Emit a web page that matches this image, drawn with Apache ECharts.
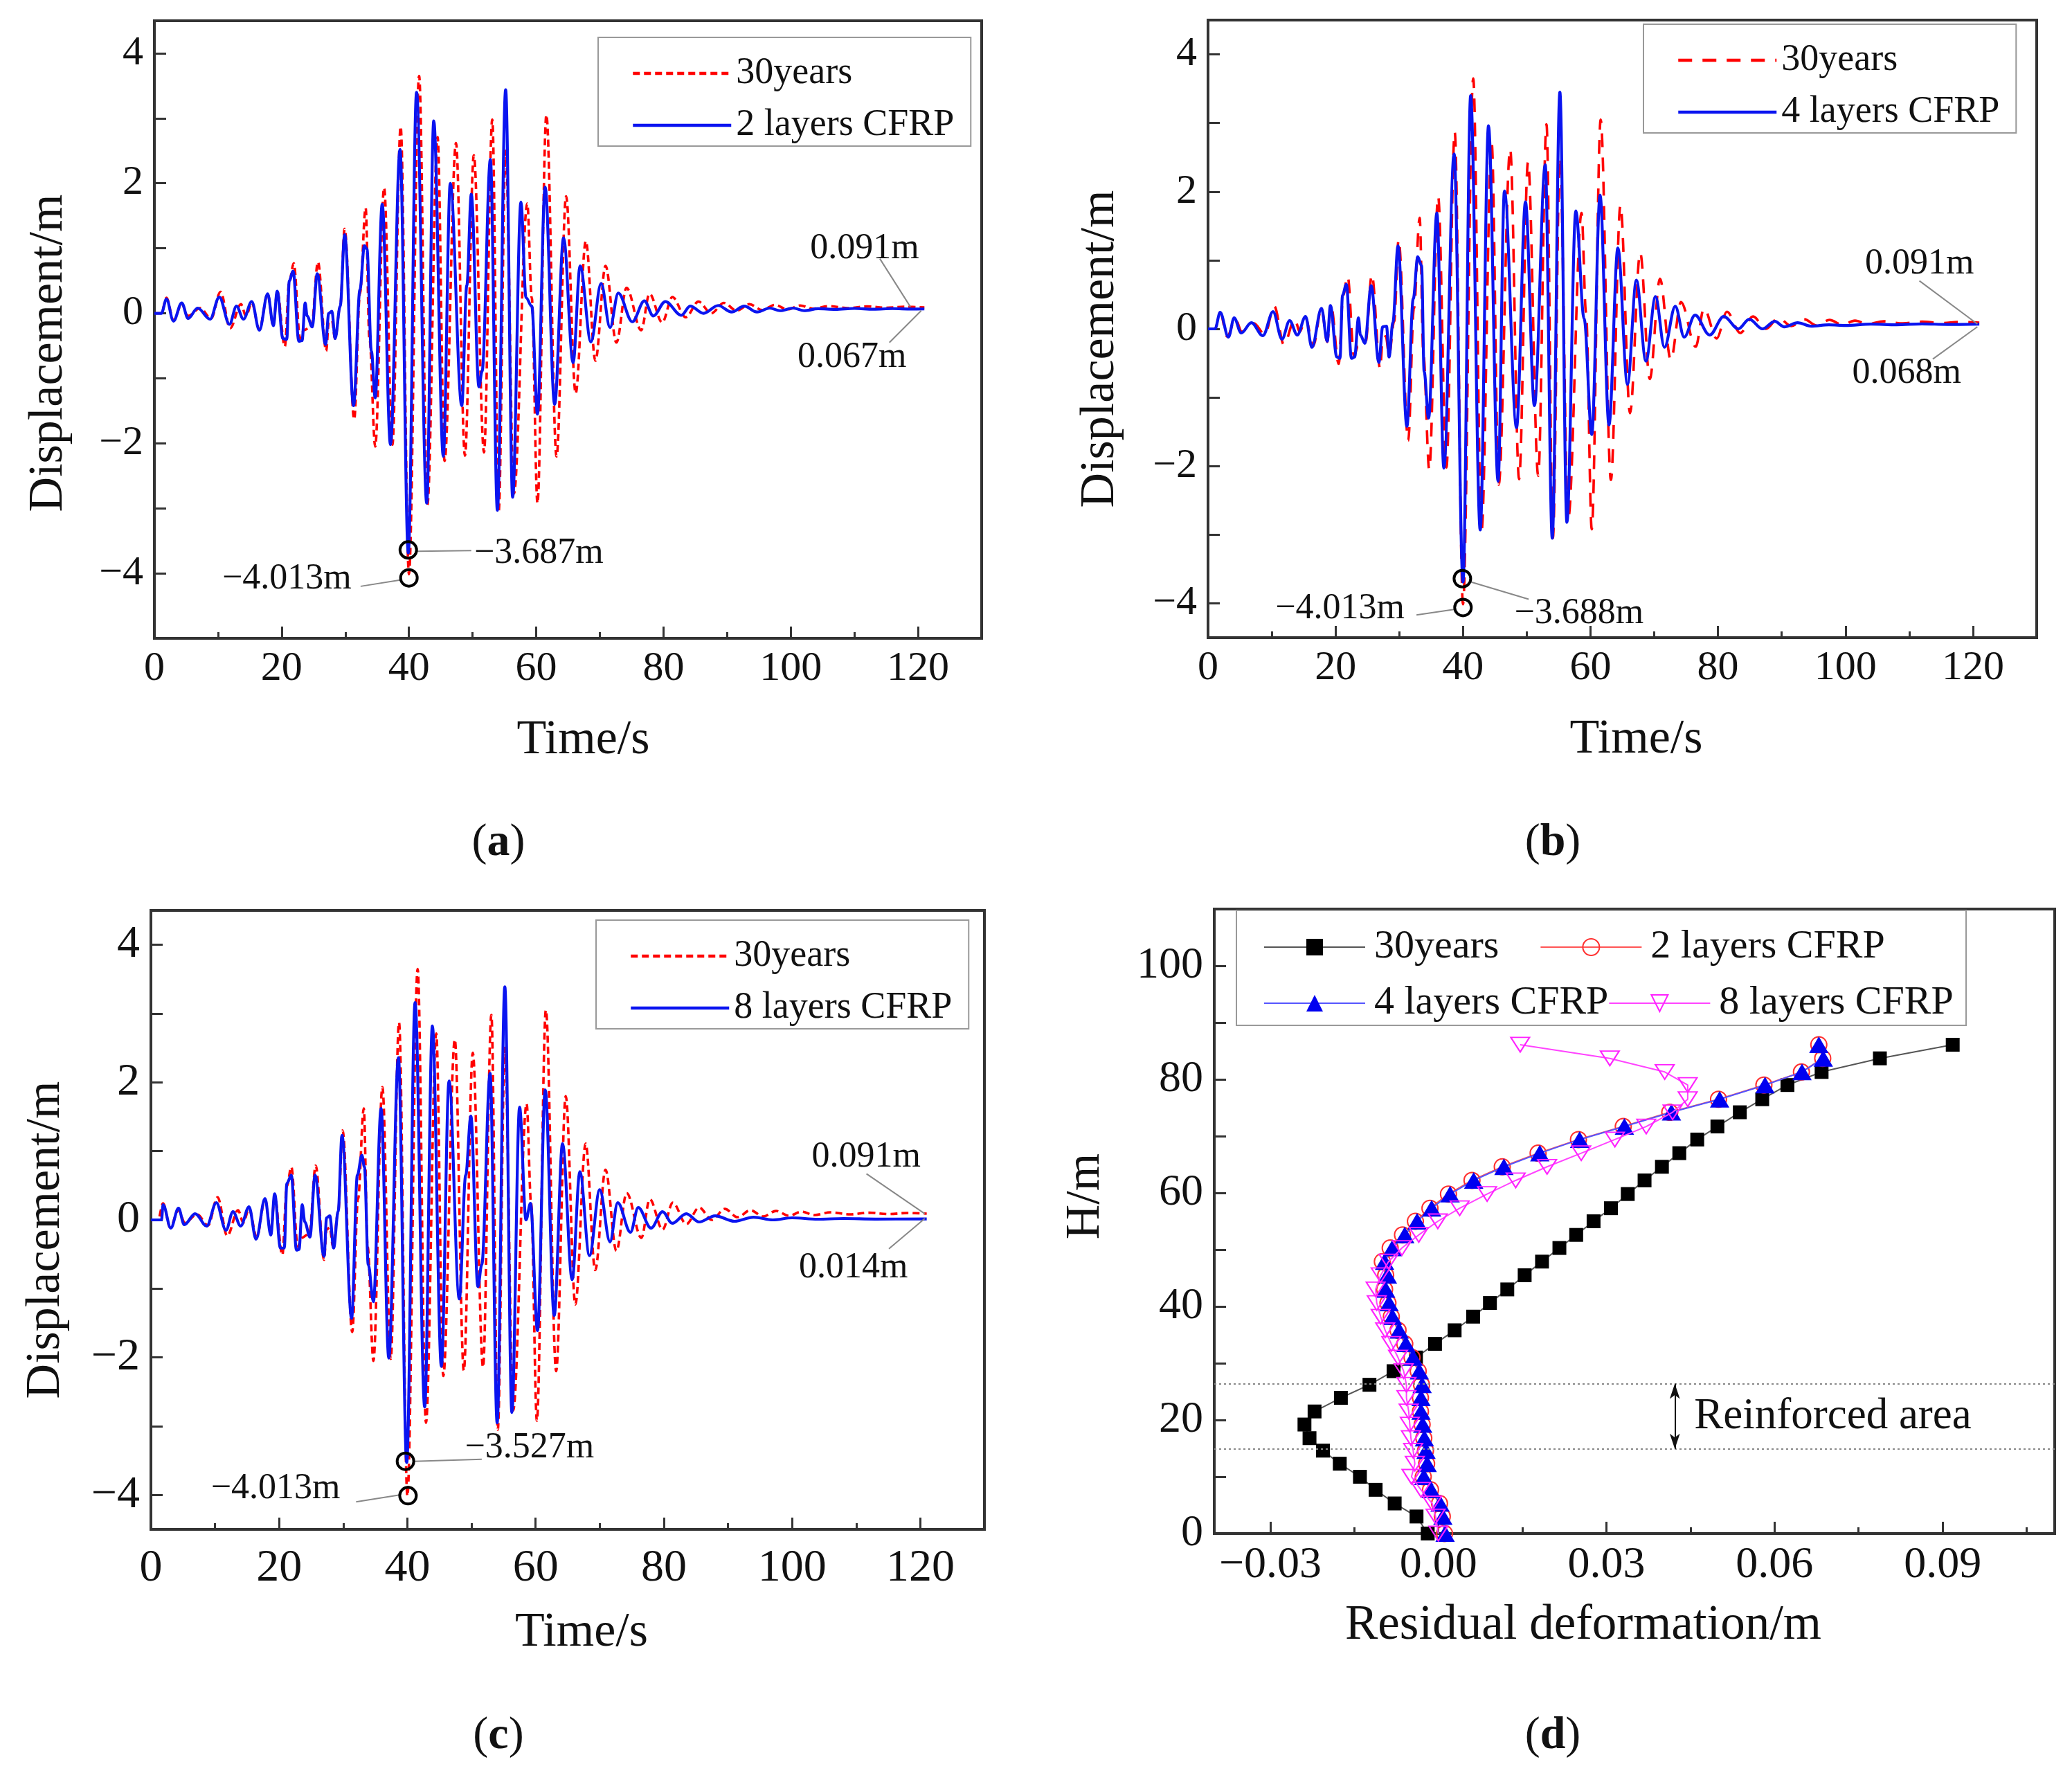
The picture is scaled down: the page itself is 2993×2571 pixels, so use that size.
<!DOCTYPE html>
<html>
<head>
<meta charset="utf-8">
<style>
  html, body { margin: 0; padding: 0; background: #fff; }
  #main { width: 2993px; height: 2571px; }
</style>
<script src="https://cdn.jsdelivr.net/npm/echarts@6/dist/echarts.min.js"></script>
</head>
<body>
<div id="main"></div>
<script>
// values, [time, displacement]
var red30 = [[0,0],[1.1,0],[1.9,.24],[3,-.11],[4.3,.14],[5.3,-.04],[7.2,.08],[8.9,-.08],[10.4,.33],[11.9,-.23],[13.6,.14],[14.4,-.04],[15.3,.16],[16.5,-.25],[17.8,.3],[18.7,-.19],[19.3,.34],[20.5,-.51],[21.2,.49],[21.9,.77],[22.9,-.39],[23.5,-.26],[24.7,-.2],[25.7,.79],[27,-.58],[27.4,-.14],[27.9,-.11],[28.4,-.39],[29.2,.11],[29.9,1.3],[31.4,-1.63],[32.3,.3],[33.2,1.62],[33.8,-.39],[34.7,-2.05],[36.1,1.93],[37.4,-2.02],[38.7,2.87],[40,-4.013],[41.6,3.65],[42.9,-2.95],[44.5,2.71],[45.6,-2.27],[47.4,2.62],[48.8,-2.19],[50.2,2.43],[51.8,-2.14],[53.1,2.98],[54.1,-3.05],[55.2,2.5],[56.5,-2.77],[58.6,1.69],[59.3,.24],[60.2,-2.92],[61.6,3.05],[63.2,-2.2],[64.7,1.8],[66.2,-1.23],[67.8,1.11],[69.3,-.73],[70.9,.73],[72.6,-.45],[74.2,.39],[76.5,-.26],[77.8,.3],[79.8,-.14],[81.4,.25],[83.5,-.06],[85.5,.18],[87.5,0],[89.5,.16],[91.5,.04],[93.5,.14],[95.5,.05],[97.5,.13],[99.5,.06],[101.5,.12],[103.5,.07],[106,.11],[109,.08],[112,.105],[115,.085],[118,.1],[121,.091]];
var blue2 = [[0,0],[1.1,0],[1.9,.22],[3,-.12],[4.3,.16],[5.3,-.08],[6.8,.08],[8.75,-.09],[10.2,.25],[11.8,-.17],[12.9,.11],[14,-.09],[15.3,.18],[16.5,-.26],[17.8,.3],[18.7,-.19],[19.3,.34],[20.2,-.39],[20.8,-.4],[21.2,.5],[21.8,.65],[22.7,-.43],[23.2,-.42],[23.7,.16],[24,-.04],[24.8,-.21],[25.6,.61],[26.9,-.48],[27.4,0],[27.9,.03],[28.4,-.39],[29.2,.11],[29.9,1.21],[31.3,-1.42],[32.3,.36],[33,1.04],[33.4,.99],[34.1,-.58],[34.7,-1.3],[35.8,1.68],[37.1,-2.02],[38.6,2.52],[39.9,-3.687],[41.2,3.4],[42.8,-2.92],[43.9,2.96],[45.4,-2.2],[46.5,2],[48.3,-1.42],[49.1,.43],[49.8,1.83],[51,-1.13],[51.5,-.89],[52.8,2.37],[53.9,-3.03],[55.2,3.44],[56.3,-2.83],[57.6,1.71],[58.4,.24],[59.3,.11],[60.2,-1.55],[61.4,1.94],[62.9,-1.4],[64.3,1.16],[65.8,-.76],[66.9,.73],[68.6,-.44],[70.2,.46],[71.6,-.22],[72.9,.31],[75.1,-.13],[77,.19],[78.4,-.04],[80.3,.18],[82.8,-.03],[84.2,.11],[86.3,0],[88.6,.12],[90.7,.02],[92.7,.11],[94.7,.02],[96.7,.08],[98.3,.04],[100.4,.08],[102.1,.04],[104.3,.07],[107,.06],[110,.075],[113,.062],[116,.072],[119,.066],[121,.067]];
var blue4 = [[0,0],[1.1,0],[1.9,.24],[3.2,-.12],[4.1,.16],[5.2,-.06],[6.8,.09],[8.6,-.1],[10.2,.25],[11.6,-.15],[12.8,.12],[14,-.09],[15.3,.18],[16.3,-.27],[17.8,.3],[18.7,-.18],[19.2,.34],[20.2,-.41],[20.7,-.43],[21.1,.49],[21.7,.65],[22.5,-.43],[23,-.41],[23.6,.16],[23.9,-.09],[24.6,-.21],[25.6,.63],[26.8,-.49],[27.4,.03],[28,.04],[28.4,-.41],[29,.09],[29.8,1.21],[31.2,-1.42],[32.2,.44],[32.9,1.05],[33.5,.92],[33.9,-.62],[34.6,-1.3],[35.9,1.69],[37,-2.03],[38.6,2.55],[40,-3.688],[41.2,3.4],[42.7,-2.93],[44,2.96],[45.5,-2.22],[46.5,2.01],[48.4,-1.44],[49.8,1.85],[51.2,-1.12],[52.9,2.39],[54,-3.05],[55.2,3.45],[56.3,-2.82],[57.7,1.72],[59,.15],[60.2,-1.54],[61.5,1.95],[62.9,-1.4],[64.3,1.18],[65.8,-.81],[67.2,.71],[68.7,-.47],[70.2,.47],[71.6,-.27],[73.3,.33],[74.7,-.12],[76.4,.2],[78.7,-.09],[80.9,.18],[83.2,0],[84.9,.14],[87,0],[88.9,.11],[90.4,.03],[92.5,.09],[94.6,.04],[97.4,.06],[100,.05],[104,.07],[108,.06],[112,.072],[116,.064],[121,.068]];
var blue8 = [[0,0],[1.65,0],[1.9,.22],[3.1,-.12],[4.3,.17],[5.2,-.07],[6.9,.09],[8.7,-.09],[10.2,.25],[11.7,-.15],[12.8,.12],[14,-.09],[15.3,.19],[16.4,-.28],[17.8,.31],[18.7,-.22],[19.3,.38],[20.2,-.41],[20.8,-.41],[21.2,.53],[21.9,.65],[22.7,-.44],[23.1,-.43],[23.6,.22],[24,-.03],[24.8,-.25],[25.6,.65],[27,-.53],[27.4,.03],[27.9,.06],[28.5,-.41],[29.2,.12],[29.8,1.23],[31.3,-1.43],[32.2,.65],[32.9,.94],[33.3,.77],[33.9,-.65],[34.7,-1.19],[35.9,1.62],[37.1,-2.01],[38.6,2.36],[39.9,-3.527],[41.2,3.16],[42.7,-2.72],[43.9,2.82],[45.3,-2.13],[46.5,2.02],[48.1,-1.15],[49.1,.65],[49.9,1.51],[51,-.97],[51.6,-.65],[52.9,2.13],[54,-2.95],[55.2,3.39],[56.3,-2.8],[57.5,1.64],[58.5,0],[59.2,.24],[60.3,-1.61],[61.5,1.89],[62.9,-1.39],[64.2,1.11],[65.7,-.87],[66.9,.7],[68.4,-.52],[70,.44],[71.6,-.32],[72.8,.25],[74.8,-.18],[76,.18],[78,-.12],[79.8,.12],[81.3,-.05],[83.5,.09],[85.5,-.03],[88,.06],[91,-.02],[94,.04],[97,0],[100,.03],[104,.01],[108,.02],[113,.012],[121,.014]];

// panel (d), storey height and residual deformation
var heights = [86.1,83.7,81.3,79,76.5,74.2,71.7,69.4,67,64.6,62.2,59.8,57.3,55,52.6,50.3,47.9,45.5,43,40.6,38.2,35.8,33.4,31,28.6,26.2,23.9,21.5,19.2,16.8,14.6,12.3,10,7.7,5.3,3,0];
var resid30 = [.0918,.0788,.0684,.0623,.0578,.0538,.0498,.0462,.043,.0399,.0368,.0338,.0308,.0277,.0246,.0216,.0185,.0154,.0123,.0092,.0062,.0029,-.0006,-.004,-.008,-.0123,-.0174,-.0221,-.0239,-.023,-.0206,-.0176,-.014,-.0112,-.0078,-.0039,-.0019];
var resid2 = [.0679,.0686,.0648,.0581,.05,.0413,.033,.025,.0178,.0114,.006,.0018,-.0015,-.0041,-.0064,-.0086,-.01,-.0094,-.0096,-.009,-.0084,-.0072,-.006,-.0047,-.0036,-.003,-.0032,-.0032,-.0029,-.0026,-.0023,-.0021,-.0027,-.0014,.0002,.0007,.0011];
var resid4 = [.0679,.0687,.0649,.0583,.0502,.0416,.0332,.0252,.0181,.0117,.0063,.0021,-.0012,-.0038,-.006,-.0082,-.0096,-.0091,-.0094,-.0088,-.0082,-.007,-.0058,-.0045,-.0034,-.0029,-.0031,-.0031,-.0028,-.0025,-.0022,-.002,-.0026,-.0013,.0003,.0008,.0012];
var resid8 = [.0146,.0306,.0404,.0445,.0445,.0418,.0371,.0315,.0255,.0194,.0138,.0087,.0038,-.0001,-.0035,-.0065,-.0089,-.0103,-.0112,-.011,-.0103,-.0095,-.0084,-.0072,-.0062,-.0057,-.0057,-.0053,-.0051,-.0049,-.0045,-.0042,-.0048,-.0031,-.0011,-.0005,0];
var reinforcedTop = 26.4, reinforcedBottom = 14.9;

// tick labels
var timeTicks = [0,20,40,60,80,100,120];
var timeMinor = [10,30,50,70,90,110];
var dispTicks = [-4,-3,-2,-1,0,1,2,3,4];
var dispLabels = [-4,-2,0,2,4];
var residTicks = [-0.03,0,0.03,0.06,0.09];
var residMinor = [-0.015,0.015,0.045,0.075,0.105];
var heightTicks = [0,10,20,30,40,50,60,70,80,90,100];
var heightLabels = [0,20,40,60,80,100];

// annotation texts and the extreme points they mark
var circlesA = [[39.9,-3.64],[40,-4.07]];
var circlesB = [[39.9,-3.64],[40,-4.06]];
var circlesC = [[39.7,-3.51],[40.1,-4.01]];
var notesA = [['0.091m',103,1.02],['0.067m',101,-.65],['\u22123.687m',50.2,-3.66],['\u22124.013m',10.6,-4.06]];
var notesB = [['0.091m',103,.98],['0.068m',101,-.62],['\u22123.688m',48,-4.12],['\u22124.013m',10.5,-4.05]];
var notesC = [['0.091m',103,.94],['0.014m',101,-.67],['\u22123.527m',48.9,-3.29],['\u22124.013m',9.3,-3.88]];
var leadersA = [[[114,.84],[118.8,.1]],[[120.5,.04],[115.5,-.45]],[[41.3,-3.66],[49.8,-3.65]],[[32.4,-4.2],[38.8,-4.1]]];
var leadersB = [[[111.6,.7],[120.7,.07]],[[120.7,.03],[113.7,-.44]],[[41.3,-3.69],[50.3,-3.94]],[[32.7,-4.17],[38.6,-4.09]]];
var leadersC = [[[111.6,.67],[120.7,.09]],[[120.7,.02],[115.1,-.42]],[[41,-3.51],[51.6,-3.48]],[[32,-4.1],[38.8,-4]]];

var serif = '"Liberation Serif", serif';
var ink = '#111';

function minus(v) {
	return String(v).replace('-', '\u2212');
}

function xValueAxis(grid, min, max, ticks, fmt, size, margin, name, gap, pad, nameSize) {
	return {
		type: 'value', gridIndex: grid, min: min, max: max, position: 'bottom',
		name: name, nameLocation: 'middle', nameGap: gap,
		nameTextStyle: { fontFamily: serif, fontSize: nameSize, color: ink, padding: pad },
		axisLine: { show: false, onZero: false },
		axisTick: { show: true, inside: true, length: 17, customValues: ticks, lineStyle: { color: '#333', width: 3 } },
		axisLabel: { show: true, customValues: ticks, margin: margin, fontFamily: serif, fontSize: size, color: ink, formatter: fmt },
		splitLine: { show: false }
	};
}

function minorAxis(grid, min, max, ticks) {
	return {
		type: 'value', gridIndex: grid, min: min, max: max, position: 'bottom',
		axisLine: { show: false, onZero: false },
		axisTick: { show: true, inside: true, length: 9, customValues: ticks, lineStyle: { color: '#333', width: 3 } },
		axisLabel: { show: false },
		splitLine: { show: false }
	};
}

function yValueAxis(grid, min, max, ticks, labels, size, name, gap, pad, nameSize) {
	return {
		type: 'value', gridIndex: grid, min: min, max: max,
		name: name, nameLocation: 'middle', nameGap: gap, nameRotate: 90,
		nameTextStyle: { fontFamily: serif, fontSize: nameSize, color: ink, padding: pad },
		axisLine: { show: false, onZero: false },
		axisTick: { show: true, inside: true, length: 17, customValues: ticks, lineStyle: { color: '#333', width: 3 } },
		axisLabel: { show: true, customValues: labels, margin: 16, fontFamily: serif, fontSize: size, color: ink, formatter: minus },
		splitLine: { show: false }
	};
}

function gridBox(l, t, r, b) {
	return { left: l, top: t, width: r - l, height: b - t, show: true, borderColor: '#333', borderWidth: 4, backgroundColor: 'transparent' };
}

function timeLine(grid, name, data, color, dash, width) {
	return {
		type: 'line', name: name, xAxisIndex: grid, yAxisIndex: grid, data: data,
		symbol: 'none', smooth: 0.35, smoothMonotone: 'x', z: dash ? 2 : 3,
		lineStyle: { color: color, width: width, type: dash || 'solid' },
		itemStyle: { color: color }
	};
}

function noteSeries(grid, notes, leaders, circles) {
	return [{
		type: 'scatter', xAxisIndex: grid, yAxisIndex: grid, symbolSize: 24, z: 5,
		data: circles,
		itemStyle: { color: 'transparent', borderColor: '#000', borderWidth: 4, opacity: 1 }
	}, {
		type: 'scatter', xAxisIndex: grid, yAxisIndex: grid, symbolSize: 1, z: 6,
		data: notes.map(function(n) { return { name: n[0], value: [n[1], n[2]] }; }),
		itemStyle: { color: 'transparent', opacity: 1 },
		label: { show: true, position: 'right', distance: 0, offset: [0, 3], formatter: '{b}', fontFamily: serif, fontSize: 52, color: ink },
		markLine: {
			silent: true, symbol: 'none', animation: false,
			label: { show: false },
			lineStyle: { color: '#888', width: 2, type: 'solid' },
			data: leaders.map(function(p) { return [{ coord: p[0] }, { coord: p[1] }]; })
		}
	}];
}

function timeLegend(left, top, names) {
	return {
		left: left, top: top, orient: 'vertical', selectedMode: false,
		data: names, itemWidth: 142, itemHeight: 2, itemGap: 21,
		padding: [25, 24, 3, 48], borderColor: '#999', borderWidth: 2, backgroundColor: '#fff',
		lineStyle: { width: 4.5 },
		textStyle: { fontFamily: serif, fontSize: 54, color: ink, padding: [0, 0, 0, 2] },
		formatter: function(n) { return n.split(':')[1]; }
	};
}

function rowLegend(left, top, names, gap) {
	return {
		left: left, top: top, orient: 'horizontal', selectedMode: false, padding: 0,
		data: names, itemWidth: 146, itemHeight: 30, itemGap: gap,
		textStyle: { fontFamily: serif, fontSize: 58, color: ink, padding: [0, 0, 0, 8] },
		formatter: function(n) { return n.split(':')[1]; }
	};
}

function profile(name, values, symbol, size, rotate, line, fill, stroke, z) {
	return {
		type: 'line', name: name, xAxisIndex: 3, yAxisIndex: 3,
		data: values.map(function(v, i) { return [v, heights[i]]; }),
		symbol: symbol, symbolSize: size, symbolRotate: rotate, z: z,
		lineStyle: { color: line, width: 2 },
		itemStyle: { color: fill, borderColor: stroke, borderWidth: stroke === fill ? 0 : 2 }
	};
}

function caption(x, y, letter) {
	return {
		type: 'text', x: x, y: y,
		style: {
			text: '({b|' + letter + '})', align: 'center', verticalAlign: 'middle',
			fontFamily: serif, fontSize: 66, fill: '#111',
			rich: { b: { fontFamily: serif, fontSize: 66, fontWeight: 'bold', fill: '#111' } }
		}
	};
}

var dashShort = [10, 6], dashLong = [20, 15];

var series = [
	timeLine(0, 'a:30years', red30, '#ff0000', dashShort, 3.6),
	timeLine(0, 'a:2 layers CFRP', blue2, '#0a14f0', null, 4.2),
	timeLine(1, 'b:30years', red30, '#ff0000', dashLong, 3.6),
	timeLine(1, 'b:4 layers CFRP', blue4, '#0a14f0', null, 4.2),
	timeLine(2, 'c:30years', red30, '#ff0000', dashShort, 3.6),
	timeLine(2, 'c:8 layers CFRP', blue8, '#0a14f0', null, 4.2)
];
series = series.concat(noteSeries(0, notesA, leadersA, circlesA));
series = series.concat(noteSeries(1, notesB, leadersB, circlesB));
series = series.concat(noteSeries(2, notesC, leadersC, circlesC));

var black = profile('d:30years', resid30, 'rect', 20, 0, '#555', '#000', '#000', 2);
black.markLine = {
	silent: true, symbol: 'none', animation: false,
	label: { show: false },
	lineStyle: { color: '#888', width: 2, type: [3, 4] },
	data: [{ yAxis: reinforcedTop }, { yAxis: reinforcedBottom }]
};
series.push(black);
series.push(profile('d:2 layers CFRP', resid2, 'circle', 23, 0, '#ff5555', 'transparent', '#ff3030', 3));
series.push(profile('d:4 layers CFRP', resid4, 'triangle', [28, 24], 0, '#5555ff', '#0000f0', '#0000f0', 4));
series.push(profile('d:8 layers CFRP', resid8, 'triangle', [27, 21], 180, '#ff44ff', 'transparent', '#ff22ff', 5));
// arrow between the two dotted lines and its label
series.push({
	type: 'scatter', xAxisIndex: 3, yAxisIndex: 3, symbolSize: 1, z: 6,
	data: [{ name: 'Reinforced area', value: [0.0456, 20.9] }],
	itemStyle: { color: 'transparent', opacity: 1 },
	label: { show: true, position: 'right', distance: 0, offset: [0, 3], formatter: '{b}', fontFamily: serif, fontSize: 63, color: ink },
	markLine: {
		silent: true, symbol: ['arrow', 'arrow'], symbolSize: [11, 22], animation: false,
		label: { show: false },
		lineStyle: { color: '#111', width: 2, type: 'solid' },
		data: [[{ coord: [0.0422, reinforcedTop] }, { coord: [0.0422, reinforcedBottom] }]]
	}
});

var residFmt = function(v) { return minus(v.toFixed(2)); };

var option = {
	animation: false,
	backgroundColor: '#fff',
	grid: [
		gridBox(223, 30, 1418, 922),
		gridBox(1745, 29, 2942, 921),
		gridBox(218, 1315, 1422, 2209),
		gridBox(1754, 1313, 2968, 2215)
	],
	xAxis: [
		xValueAxis(0, 0, 130, timeTicks, null, 60, 14, 'Time/s', 113, [0, 0, 0, 44], 70),
		xValueAxis(1, 0, 130, timeTicks, null, 60, 14, 'Time/s', 113, [0, 0, 0, 40], 70),
		xValueAxis(2, 0, 130, timeTicks, null, 66, 24, 'Time/s', 115, [0, 0, 0, 40], 70),
		xValueAxis(3, -0.04, 0.11, residTicks, residFmt, 64, 14, 'Residual deformation/m', 98, [0, 148, 0, 0], 71),
		minorAxis(0, 0, 130, timeMinor),
		minorAxis(1, 0, 130, timeMinor),
		minorAxis(2, 0, 130, timeMinor),
		minorAxis(3, -0.04, 0.11, residMinor)
	],
	yAxis: [
		yValueAxis(0, -5, 4.5, dispTicks, dispLabels, 60, 'Displacement/m', 117, [0, 68, 0, 0], 70),
		yValueAxis(1, -4.5, 4.5, dispTicks, dispLabels, 60, 'Displacement/m', 120, [0, 58, 0, 0], 70),
		yValueAxis(2, -4.5, 4.5, dispTicks, dispLabels, 66, 'Displacement/m', 116, [0, 58, 0, 0], 70),
		yValueAxis(3, 0, 110, heightTicks, heightLabels, 64, 'H/m', 150, [0, 0, 0, 72], 70)
	],
	legend: [
		timeLegend(864, 54, ['a:30years', 'a:2 layers CFRP']),
		timeLegend(2374, 35, ['b:30years', 'b:4 layers CFRP']),
		timeLegend(861, 1329, ['c:30years', 'c:8 layers CFRP']),
		rowLegend(1825, 1339, ['d:30years', 'd:2 layers CFRP'], 59),
		rowLegend(1825, 1420, ['d:4 layers CFRP', 'd:8 layers CFRP'], 0)
	],
	graphic: [
		{ type: 'rect', z: 1, shape: { x: 1786, y: 1315, width: 1054, height: 166 }, style: { fill: '#fff', stroke: '#999', lineWidth: 2 } },
		caption(720, 1218, 'a'),
		caption(2243, 1218, 'b'),
		caption(720, 2508, 'c'),
		caption(2243, 2508, 'd')
	],
	series: series
};

var chart = echarts.init(document.getElementById('main'));
chart.setOption(option);
</script>
</body>
</html>
